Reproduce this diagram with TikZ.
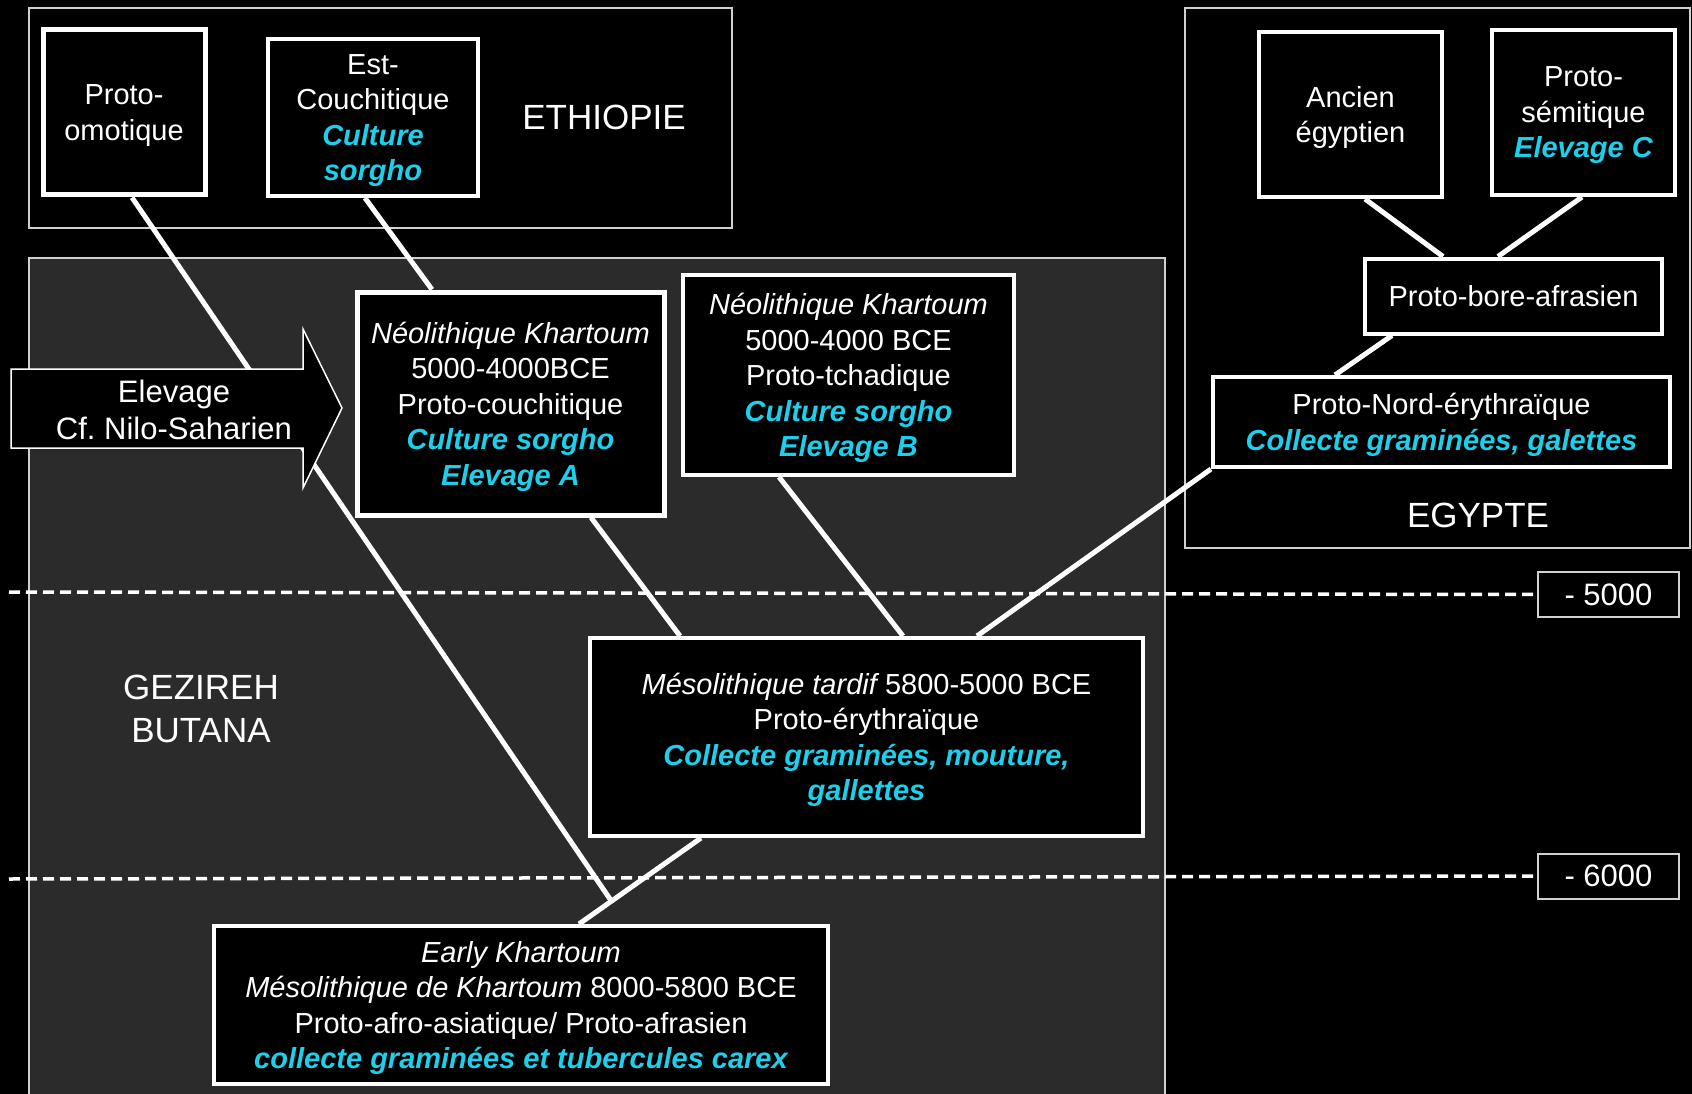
\documentclass[tikz,border=0pt]{standalone}
\usepackage{fontspec}
\setmainfont{Liberation Sans}
\usepackage{xcolor}
\usepackage{tikz}
\definecolor{afrcyan}{HTML}{1DCFEA}
\definecolor{afrgray}{HTML}{2B2B2B}
\definecolor{afrline}{HTML}{D0D0D0}
\newcommand{\cyanbf}[1]{{\color{afrcyan}\bfseries\itshape #1}}

\begin{document}
\begin{tikzpicture}[x=1pt,y=-1pt,
  region/.style={draw=afrline,line width=2pt},
  langbox/.style={draw=white,fill=black,line width=4pt,text=white,align=center,inner sep=0pt,text depth=0pt,font=\fontsize{29}{35.5}\selectfont},
  datebox/.style={draw=afrline,fill=black,line width=2pt,text=white,inner sep=0pt,minimum width=141,minimum height=45,font=\fontsize{31}{37}\selectfont},
  zone/.style={text=white,align=center,font=\fontsize{35}{43}\selectfont},
  branch/.style={draw=white,line width=5pt},
  timeline/.style={draw=white,line width=3.5pt,dash pattern=on 11pt off 6pt}]
  \fill[black] (0,0) rectangle (1692,1094);
  \useasboundingbox (0,0) rectangle (1692,1094);

  \draw[region] (29,8) rectangle (732,228);
  \draw[region] (1185,8) rectangle (1690,548);
  \draw[region,fill=afrgray] (29,258) rectangle (1165,1110);
  \node[zone] (ethiopie) at (604,117) {ETHIOPIE};
  \node[zone] (egypte) at (1478,515) {EGYPTE};
  \node[zone] (gezireh) at (201,709) {GEZIREH\\BUTANA};

  \node[datebox] (lbl5000) at (1608.5,594.5) {- 5000};
  \node[datebox] (lbl6000) at (1608.5,876) {- 6000};
  \draw[timeline] (9,592) -- (lbl5000.west);
  \draw[timeline] (9,879) -- (lbl6000.west);

  \node[langbox,line width=5pt,minimum width=162,minimum height=165] (omot) at (124,112.5) {Proto-\\omotique};
  \node[langbox,minimum width=210,minimum height=157] (estc) at (373,117.5) {Est-\\Couchitique\\\cyanbf{Culture}\\\cyanbf{sorgho}};
  \node[langbox,minimum width=183,minimum height=165] (anc) at (1350.5,114.5) {Ancien\\égyptien};
  \node[langbox,minimum width=183,minimum height=165] (sem) at (1583.5,112.5) {Proto-\\sémitique\\\cyanbf{Elevage C}};
  \node[langbox,minimum width=297,minimum height=75] (bore) at (1513.5,296) {Proto-bore-afrasien};
  \node[langbox,minimum width=457,minimum height=90] (nord) at (1441.5,422) {Proto-Nord-érythraïque\\\cyanbf{Collecte graminées, galettes}};
  \node[langbox,line width=5pt,minimum width=307,minimum height=223] (neoA) at (510.5,403.5) {{\itshape Néolithique Khartoum}\\5000-4000BCE\\Proto-couchitique\\\cyanbf{Culture sorgho}\\\cyanbf{Elevage A}};
  \node[langbox,minimum width=331,minimum height=200] (neoB) at (848.5,375) {{\itshape Néolithique Khartoum}\\5000-4000 BCE\\Proto-tchadique\\\cyanbf{Culture sorgho}\\\cyanbf{Elevage B}};
  \node[langbox,minimum width=553,minimum height=198] (meso) at (866.5,737) {{\itshape Mésolithique tardif} 5800-5000 BCE\\Proto-érythraïque\\\cyanbf{Collecte graminées, mouture,}\\\cyanbf{gallettes}};
  \node[langbox,minimum width=614,minimum height=158] (early) at (521,1005) {{\itshape Early Khartoum}\\{\itshape Mésolithique de Khartoum} 8000-5800 BCE\\Proto-afro-asiatique/ Proto-afrasien\\\cyanbf{collecte graminées et tubercules carex}};

  \coordinate (jct) at (612,902);
  \draw[branch] ([xshift=58pt]early.north) -- ([xshift=-165.5pt]meso.south);
  \draw[branch] ([xshift=8pt]omot.south) -- (jct);
  \draw[branch] ([xshift=-8pt]estc.south) -- ([xshift=-78.5pt]neoA.north);
  \draw[branch] ([xshift=80.5pt]neoA.south) -- ([xshift=-186.5pt]meso.north);
  \draw[branch] ([xshift=-69.5pt]neoB.south) -- ([xshift=36.5pt]meso.north);
  \draw[branch] ([xshift=110.5pt]meso.north) -- (nord.south west);
  \draw[branch] ([xshift=-106.5pt]nord.north) -- ([xshift=-121.5pt]bore.south);
  \draw[branch] ([xshift=-70.5pt]bore.north) -- ([xshift=14.5pt]anc.south);
  \draw[branch] ([xshift=-15.5pt]bore.north) -- ([xshift=-1.5pt]sem.south);

  \draw[draw=white,fill=black,line width=1.5pt] (11,369) -- (303,369) -- (303,329) -- (342,408) -- (303,488) -- (303,448) -- (11,448) -- cycle;
  \node[text=white,align=center,font=\fontsize{31}{37}\selectfont] (elevage) at (174,410) {Elevage\\Cf.\ Nilo-Saharien};
\end{tikzpicture}
\end{document}
